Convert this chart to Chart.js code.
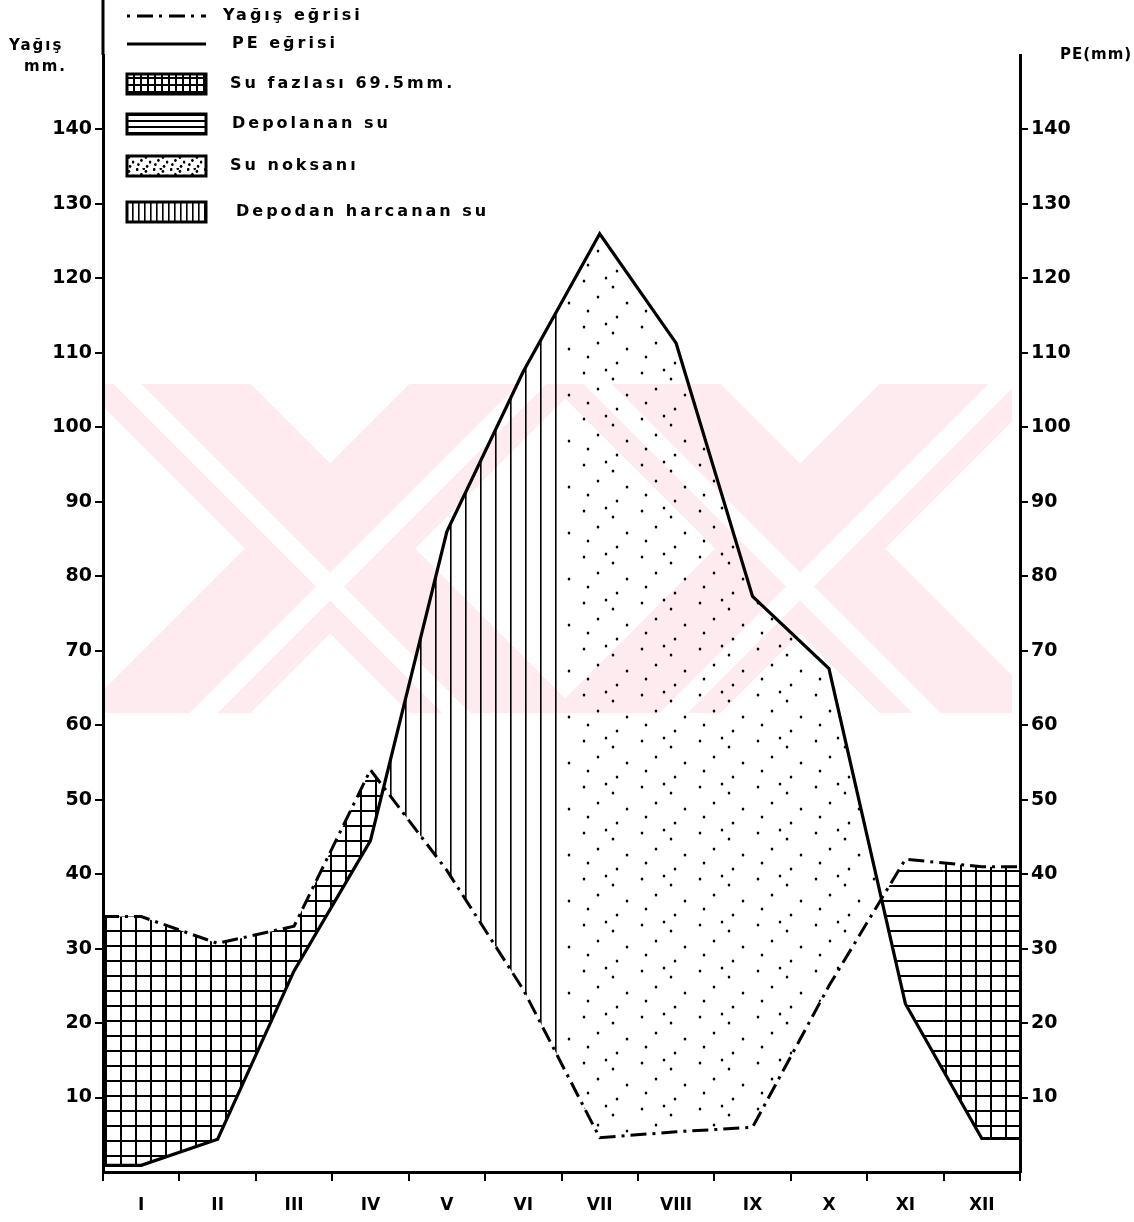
<!DOCTYPE html>
<html lang="tr">
<head>
<meta charset="utf-8">
<title>Su bilançosu diyagramı</title>
<script src="https://cdn.jsdelivr.net/npm/chart.js@4.4.1/dist/chart.umd.min.js"></script>
<style>
  html, body { margin: 0; padding: 0; background: #fff; }
  canvas { display: block; }
</style>
</head>
<body>
<canvas id="suBilancosu" width="1134" height="1222"></canvas>
<script>
// Aylar ve değerler (mm)
const months = ['I', 'II', 'III', 'IV', 'V', 'VI', 'VII', 'VIII', 'IX', 'X', 'XI', 'XII'];
const yagis = [34.3, 30.7, 33.0, 54.0, 40.5, 24.5, 4.6, 5.4, 6.0, 25.0, 42.0, 41.0];
const pe = [0.9, 4.4, 27.0, 44.5, 86.0, 107.5, 126.0, 111.3, 77.3, 67.6, 22.6, 4.5];
const yTicks = [10, 20, 30, 40, 50, 60, 70, 80, 90, 100, 110, 120, 130, 140];

// Taramalar: yağış PE'nin üstündeyse "above", altındaysa "below"
const zones = [
  { from: 0, to: 6, above: 'grid', below: 'vertical' },
  { from: 6, to: 11, above: 'horizontal', below: 'dots' },
  { from: 11, to: 12, above: 'grid', below: 'dots' }
];

const FONT = '"DejaVu Sans", "Liberation Sans", sans-serif';
const WATERMARK = '#fdebef';

// each monthly value sits in the middle of its month, the curves run flat to both edges
const toPoints = (vals) => [
  { x: 0, y: vals[0] },
  ...vals.map((v, i) => ({ x: i + 0.5, y: v })),
  { x: months.length, y: vals[vals.length - 1] }
];

// Pattern helper: hatch tiles drawn on a small offscreen canvas
const dotTile = [[4, 5], [33, 11], [18, 21], [47, 27], [8, 35], [37, 41], [26, 2]];
function makePattern(kind, size) {
  const c = document.createElement('canvas');
  const g = c.getContext('2d');
  if (kind === 'dots') {
    c.width = Math.round(58 * size);
    c.height = Math.round(46 * size);
  } else {
    c.width = c.height = size;
  }
  g.fillStyle = '#000';
  if (kind === 'grid') {
    g.fillRect(0, 0, size, 2);
    g.fillRect(0, 0, 2, size);
  } else if (kind === 'horizontal') {
    g.fillRect(0, 0, size, 2);
  } else if (kind === 'vertical') {
    g.fillRect(0, 0, 1.6, size);
  } else if (kind === 'dots') {
    dotTile.forEach(([dx, dy]) => {
      g.beginPath();
      g.ellipse(dx * size, dy * size, 1.3, 1.6, 0, 0, Math.PI * 2);
      g.fill();
    });
  }
  return g.createPattern(c, 'repeat');
}

const chartFills = {
  grid: makePattern('grid', 15),
  horizontal: makePattern('horizontal', 15),
  vertical: makePattern('vertical', 15),
  dots: makePattern('dots', 1)
};
const legendFills = {
  grid: makePattern('grid', 7),
  horizontal: makePattern('horizontal', 6),
  vertical: makePattern('vertical', 6),
  dots: makePattern('dots', 0.3)
};

function trace(ctx, pts) {
  pts.forEach((p, i) => (i ? ctx.lineTo(p.x, p.y) : ctx.moveTo(p.x, p.y)));
}

// 1. Faded logo behind the plot
const watermark = {
  id: 'watermark',
  beforeDatasetsDraw(chart) {
    const { ctx, chartArea: a } = chart;
    const top = 384, bottom = 713, cy = (top + bottom) / 2;
    ctx.save();
    ctx.beginPath();
    ctx.rect(a.left + 2, top, a.width - 10, bottom - top);
    ctx.clip();
    const band = (cx, dir, half, color) => {
      const h = 400;
      ctx.beginPath();
      ctx.moveTo(cx - half - dir * h, cy - h);
      ctx.lineTo(cx + half - dir * h, cy - h);
      ctx.lineTo(cx + half + dir * h, cy + h);
      ctx.lineTo(cx - half + dir * h, cy + h);
      ctx.closePath();
      ctx.fillStyle = color;
      ctx.fill();
    };
    [330, 800].forEach(cx => {
      band(cx, 1, 85, WATERMARK);
      band(cx, -1, 85, WATERMARK);
    });
    [330, 800].forEach(cx => {
      band(cx - 38, 1, 14, '#fff');
      band(cx + 38, -1, 14, '#fff');
    });
    ctx.restore();
  }
};

// 2. Hatched areas between the two curves
const bilancoFill = {
  id: 'bilancoFill',
  beforeDatasetsDraw(chart) {
    const { ctx, chartArea: a } = chart;
    const xs = chart.scales.x;
    const rain = chart.getDatasetMeta(0).data;
    const evap = chart.getDatasetMeta(1).data;
    zones.forEach(z => {
      const x0 = xs.getPixelForValue(z.from);
      const x1 = xs.getPixelForValue(z.to);
      [['above', rain, evap], ['below', evap, rain]].forEach(([key, upper, lower]) => {
        ctx.save();
        ctx.beginPath();
        ctx.rect(x0, a.top, x1 - x0, a.height);
        ctx.clip();
        ctx.beginPath();
        trace(ctx, upper);
        ctx.lineTo(upper[upper.length - 1].x, a.bottom);
        ctx.lineTo(upper[0].x, a.bottom);
        ctx.closePath();
        ctx.clip();
        ctx.beginPath();
        trace(ctx, lower);
        ctx.lineTo(lower[lower.length - 1].x, a.top);
        ctx.lineTo(lower[0].x, a.top);
        ctx.closePath();
        ctx.fillStyle = chartFills[z[key]];
        ctx.fill();
        ctx.restore();
      });
    });
  }
};

// 3. Legend, axis titles and the upper part of the left axis
const legendItems = [
  { kind: 'dash', text: 'Yağış eğrisi', y: 16, tx: 223 },
  { kind: 'line', text: 'PE eğrisi', y: 44, tx: 232 },
  { kind: 'grid', text: 'Su fazlası 69.5mm.', y: 84, tx: 230 },
  { kind: 'horizontal', text: 'Depolanan su', y: 124, tx: 232 },
  { kind: 'dots', text: 'Su noksanı', y: 166, tx: 230 },
  { kind: 'vertical', text: 'Depodan harcanan su', y: 212, tx: 236 }
];

const decorations = {
  id: 'decorations',
  afterDraw(chart) {
    const { ctx, chartArea: a } = chart;
    ctx.save();
    ctx.strokeStyle = '#000';
    ctx.fillStyle = '#000';

    ctx.lineWidth = 3;
    ctx.beginPath();
    ctx.moveTo(a.left, 0);
    ctx.lineTo(a.left, a.top);
    ctx.stroke();

    ctx.textBaseline = 'middle';
    ctx.letterSpacing = '2px';
    ctx.font = 'bold 15px ' + FONT;
    ctx.fillText('Yağış', 9, 46);
    ctx.fillText('mm.', 24, 67);
    ctx.letterSpacing = '1px';
    ctx.font = 'bold 15px ' + FONT;
    ctx.fillText('PE(mm)', 1060, 55);

    const bx = 127, bw = 79, bh = 20;
    legendItems.forEach(item => {
      if (item.kind === 'dash' || item.kind === 'line') {
        ctx.lineWidth = 3;
        ctx.setLineDash(item.kind === 'dash' ? [3, 7, 16, 6] : []);
        ctx.beginPath();
        ctx.moveTo(bx, item.y);
        ctx.lineTo(bx + bw, item.y);
        ctx.stroke();
        ctx.setLineDash([]);
      } else {
        ctx.fillStyle = legendFills[item.kind];
        ctx.fillRect(bx, item.y - bh / 2, bw, bh);
        ctx.fillStyle = '#000';
        ctx.lineWidth = 3;
        ctx.strokeRect(bx, item.y - bh / 2, bw, bh);
      }
      ctx.letterSpacing = '3px';
      ctx.font = 'bold 16px ' + FONT;
      ctx.fillText(item.text, item.tx, item.y);
    });
    ctx.restore();
  }
};

const xTicks = [];
for (let i = 0; i <= months.length; i++) {
  xTicks.push({ value: i });
  if (i < months.length) xTicks.push({ value: i + 0.5 });
}

const axisY = (position, width) => ({
  type: 'linear',
  position,
  min: 0,
  max: 150,
  afterBuildTicks: (ax) => { ax.ticks = yTicks.map(v => ({ value: v })); },
  afterFit: (ax) => { ax.width = width; },
  ticks: {
    color: '#000',
    padding: 3,
    font: { family: FONT, size: 19, weight: 'bold' }
  },
  grid: { drawOnChartArea: false, tickLength: 8, color: '#000', lineWidth: 2 },
  border: { display: true, color: '#000', width: 3, z: 1 }
});

new Chart(document.getElementById('suBilancosu'), {
  type: 'line',
  data: {
    datasets: [
      {
        label: 'Yağış eğrisi',
        data: toPoints(yagis),
        borderColor: '#000',
        borderWidth: 3,
        borderDash: [16, 6, 3, 6],
        pointRadius: 0,
        tension: 0,
        fill: false
      },
      {
        label: 'PE eğrisi',
        data: toPoints(pe),
        borderColor: '#000',
        borderWidth: 3.2,
        pointRadius: 0,
        tension: 0,
        fill: false
      }
    ]
  },
  options: {
    responsive: false,
    animation: false,
    devicePixelRatio: 1,
    layout: { padding: { top: 55, left: 0, right: 0, bottom: 0 } },
    plugins: {
      legend: { display: false },
      tooltip: { enabled: false }
    },
    scales: {
      x: {
        type: 'linear',
        min: 0,
        max: months.length,
        afterBuildTicks: (ax) => { ax.ticks = xTicks.map(t => ({ ...t })); },
        afterFit: (ax) => { ax.height = 50; },
        ticks: {
          autoSkip: false,
          maxRotation: 0,
          padding: 14,
          color: '#000',
          font: { family: FONT, size: 17, weight: 'bold' },
          callback: (v) => (Number.isInteger(v - 0.5) ? months[v - 0.5] : '')
        },
        grid: {
          drawOnChartArea: false,
          tickLength: 9,
          lineWidth: 2,
          tickColor: (c) => (c.tick && Number.isInteger(c.tick.value) ? '#000' : 'rgba(0,0,0,0)')
        },
        border: { display: true, color: '#000', width: 3, z: 1 }
      },
      y: axisY('left', 103),
      y2: axisY('right', 114)
    }
  },
  plugins: [watermark, bilancoFill, decorations]
});
</script>
</body>
</html>
